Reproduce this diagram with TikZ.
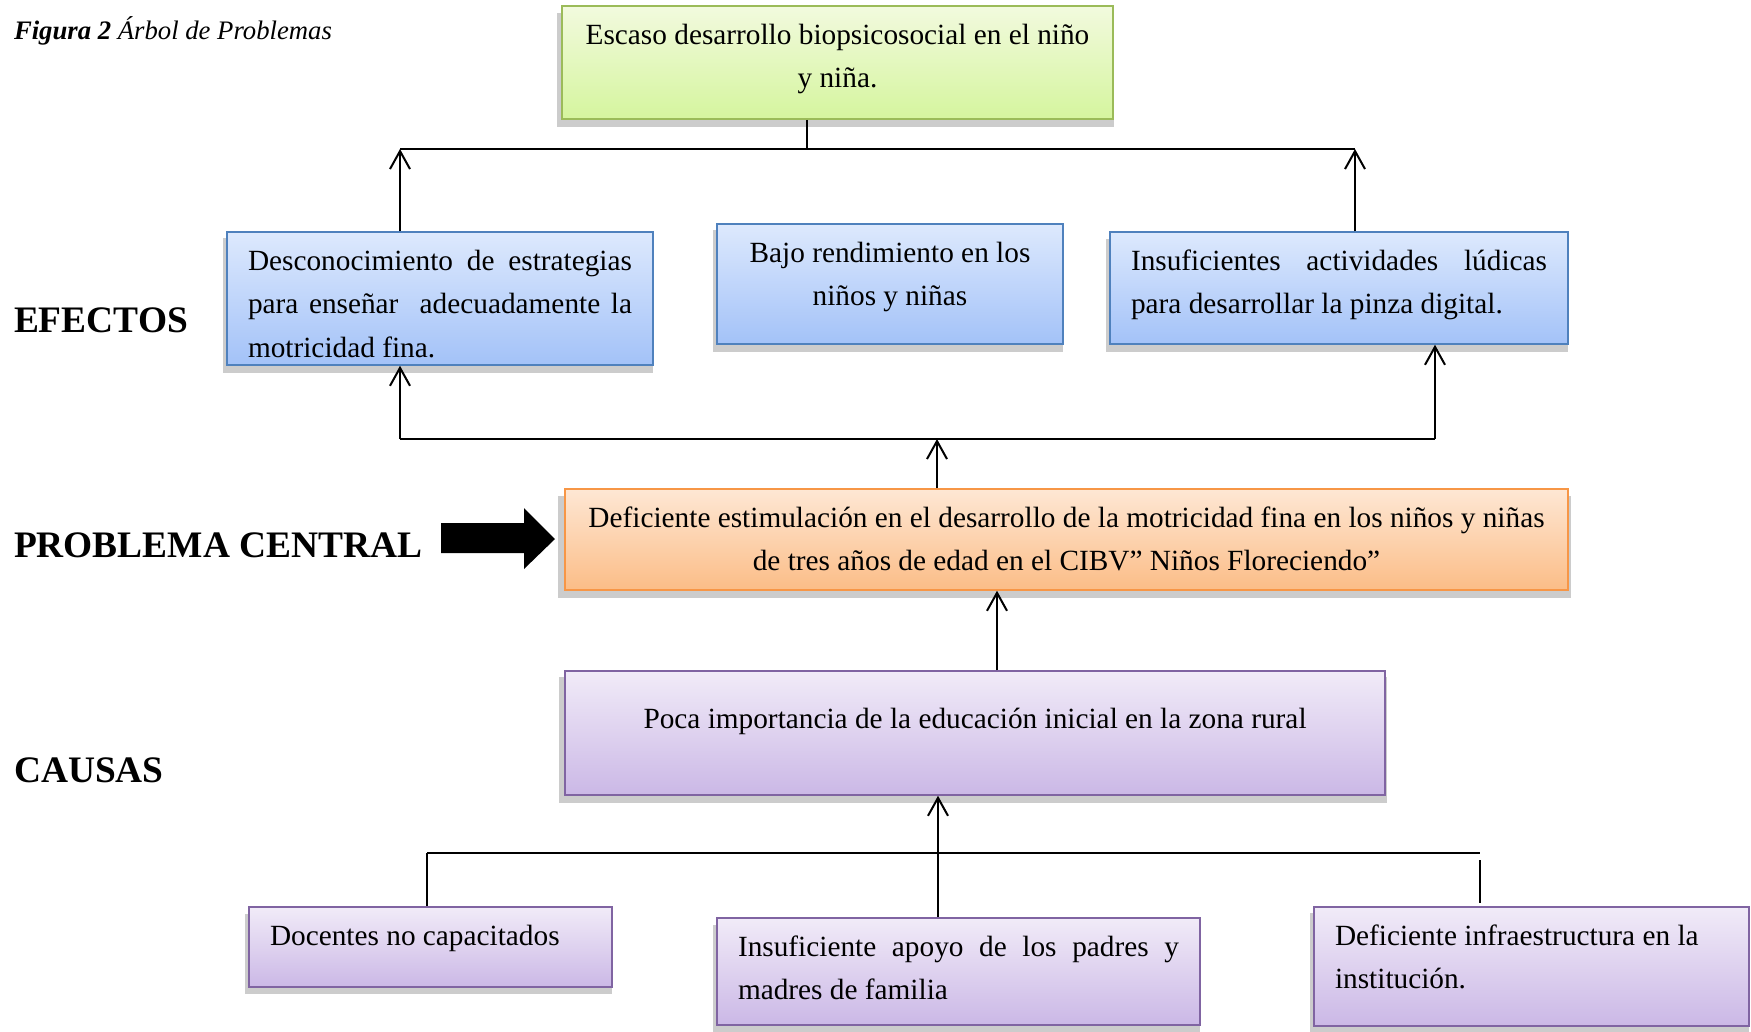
\documentclass[tikz,border=0pt]{standalone}
\usepackage{fontspec}
\setmainfont{Liberation Serif}
\usetikzlibrary{shadows,arrows.meta}

\definecolor{verdeb}{HTML}{9BBB59}
\definecolor{verdet}{HTML}{F2FADE}
\definecolor{verdef}{HTML}{D5F59E}
\definecolor{azulb}{HTML}{4F81BD}
\definecolor{azult}{HTML}{DDE9FD}
\definecolor{azulf}{HTML}{A3C2F8}
\definecolor{naranjab}{HTML}{F79646}
\definecolor{naranjat}{HTML}{FEE7D4}
\definecolor{naranjaf}{HTML}{FBBD87}
\definecolor{moradob}{HTML}{8064A2}
\definecolor{moradot}{HTML}{F1EBF8}
\definecolor{moradof}{HTML}{CBB8E6}

% texto alineado arriba dentro de cada caja
\newcommand{\caja}[4][8pt]{\parbox[c][#3pt][t]{#2pt}{\vspace*{#1}\strut #4}}

\begin{document}
\begin{tikzpicture}[x=1pt,y=-1pt,line width=2pt,
    caja/.style={draw,line width=1.5pt,inner xsep=21pt,inner ysep=0pt,
      font=\fontsize{29.3}{43.5}\selectfont,
      drop shadow={shadow xshift=-2pt,shadow yshift=-7pt,shadow scale=1.01,opacity=0.4}},
    verde/.style={caja,draw=verdeb,top color=verdet,bottom color=verdef},
    azul/.style={caja,draw=azulb,top color=azult,bottom color=azulf},
    naranja/.style={caja,draw=naranjab,top color=naranjat,bottom color=naranjaf},
    morado/.style={caja,draw=moradob,top color=moradot,bottom color=moradof},
    rotulo/.style={anchor=west,inner sep=0pt,font=\fontsize{37.4}{40}\selectfont\bfseries},
    flecha/.style={-{Straight Barb[length=18pt,width=20pt]}}]
  \useasboundingbox (0,0) rectangle (1751,1031);
  \fill[white] (0,0) rectangle (1751,1031);

  \node[anchor=west,inner sep=0pt,font=\fontsize{26.7}{30}\selectfont\itshape] (fig) at (13,31)
    {\textbf{Figura 2} Árbol de Problemas};

  % efectos
  \node[verde] (esc) at (837.5,62.5) {\caja{509}{113}{\centering Escaso desarrollo biopsicosocial en el niño\\ y niña.}};
  \node[azul] (ef1) at (440,298.5) {\caja{384}{133}{Desconocimiento de estrategias\linebreak para enseñar\ \ adecuadamente la\linebreak motricidad fina.}};
  \node[azul] (ef2) at (890,284) {\caja{304}{120}{\centering Bajo rendimiento en los\\ niños y niñas}};
  \node[azul] (ef3) at (1339,288) {\caja{416}{112}{Insuficientes actividades lúdicas\linebreak para desarrollar la pinza digital.}};
  \node[rotulo] (efe) at (13,320) {EFECTOS};

  % problema central
  \node[naranja,inner xsep=15pt] (pc) at (1066.5,539.5) {\caja{973}{101}{\centering Deficiente estimulación en el desarrollo de la motricidad fina en los niños y niñas\\ de tres años de edad en el CIBV” Niños Floreciendo”}};
  \node[rotulo] (pce) at (13,545) {PROBLEMA CENTRAL};
  \fill (441,523) -- (524,523) -- (524,508) -- (555,539) -- (524,569) -- (524,553) -- (441,553) -- cycle;

  % causas
  \node[morado] (poca) at (975,733) {\caja[27pt]{778}{124}{\centering Poca importancia de la educación inicial en la zona rural}};
  \node[rotulo] (cau) at (13,770) {CAUSAS};
  \node[morado] (doc) at (430.5,947) {\caja{321}{80}{\raggedright Docentes no capacitados}};
  \node[morado] (ins) at (958.5,971.5) {\caja{441}{107}{Insuficiente apoyo de los padres y\linebreak madres de familia}};
  \node[morado] (inf) at (1531.5,966.5) {\caja{393}{119}{\raggedright Deficiente infraestructura en la\\ institución.}};

  % conectores superiores
  \coordinate (tl) at (400,149);
  \coordinate (tr) at (1355,149);
  \coordinate (tj) at (807,149);
  \draw (tl) -- (tr);
  \draw (esc.south -| tj) -- (tj);
  \draw[flecha] (ef1.north -| tl) -- (tl);
  \draw[flecha] (ef3.north -| tr) -- (tr);

  \coordinate (ml) at (400,439);
  \coordinate (mr) at (1435,439);
  \coordinate (mj) at (937,439);
  \draw (ml) -- (mr);
  \draw[flecha] (ml) -- (ef1.south -| ml);
  \draw[flecha] (mr) -- (ef3.south -| mr);
  \draw[flecha] (pc.north -| mj) -- (mj);

  \draw[flecha] (poca.north -| 997,0) -- (pc.south -| 997,0);

  % conectores inferiores
  \coordinate (bl) at (427,853);
  \coordinate (br) at (1480,853);
  \coordinate (bj) at (938,853);
  \coordinate (bd) at (1480,860);
  \draw (bl) -- (br);
  \draw (bl) -- (doc.north -| bl);
  \draw (bj) -- (ins.north -| bj);
  \draw[flecha] (bj) -- (poca.south -| bj);
  \draw (bd) -- (1480,903);
\end{tikzpicture}
\end{document}
